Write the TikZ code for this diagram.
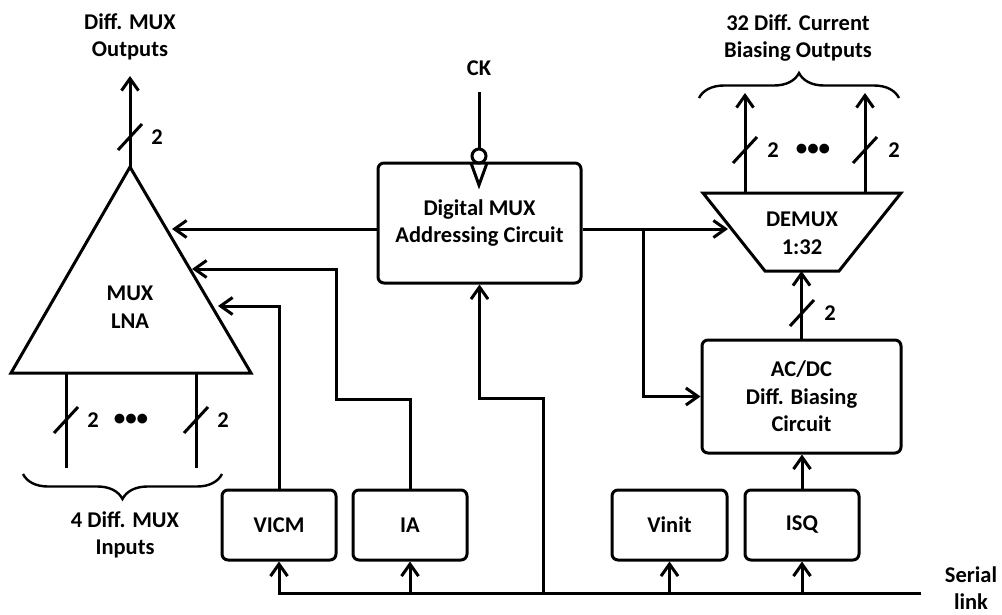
\documentclass[tikz,border=0pt]{standalone}
\usepackage{fontspec}
\setmainfont{Carlito}
\usetikzlibrary{arrows.meta,decorations.pathreplacing}
\newcommand\lblfont{\fontsize{22.5}{27.5}\selectfont\bfseries}
\newcommand\busslash[2]{\draw[wire] (#1-12,#2+13) -- (#1+12,#2-13);}
\begin{document}
\begin{tikzpicture}[x=1pt,y=-1pt,
  wire/.style={line width=3pt},
  arr/.style={wire,-{Straight Barb[length=12pt,width=17pt]}},
  box/.style={draw,wire,rounded corners=6pt,inner sep=0pt,align=center,font=\lblfont},
  lbl/.style={font=\lblfont,align=center,inner sep=0pt},
  brc/.style={decorate,decoration={brace,amplitude=25pt},line width=2.4pt}]
\useasboundingbox (0,0) rectangle (1002,614);

% MUX LNA triangle
\draw[wire] (11,373) -- (130,167) -- (251,373) -- cycle;
\node[lbl] (mux) at (130,307) {MUX\\LNA};
\coordinate (apex) at (130,167);
\coordinate (muxout) at (130,76);
\draw[arr] (apex) -- (muxout);
\busslash{130}{137}
\node[lbl] (two1) at (157,137) {2};
\node[lbl] (muxouttxt) at (130,37) {Diff. MUX\\Outputs};

% MUX inputs
\coordinate (in1t) at (66,373); \coordinate (in1b) at (66,468);
\coordinate (in2t) at (196,373); \coordinate (in2b) at (196,468);
\draw[wire] (in1t) -- (in1b);
\draw[wire] (in2t) -- (in2b);
\busslash{66}{420}
\busslash{196}{420}
\node[lbl] (two2) at (93,420) {2};
\node[lbl] (two3) at (223,420) {2};
\node[lbl,font=\fontsize{23}{26}\selectfont\bfseries] (dots1) at (131,420) {•••};
\draw[brc] (222,474) -- (23,474);
\node[lbl] (muxintxt) at (125,535) {4 Diff. MUX\\Inputs};

% Digital MUX
\node[box,minimum width=203pt,minimum height=120pt] (dig) at (479.5,223) {Digital MUX\\Addressing Circuit};
\node[lbl] (ck) at (479,68) {CK};
\coordinate (ckt) at (479,92);
\node[circle,draw,wire,minimum size=14pt,inner sep=0pt] (bub) at (479,156) {};
\draw[wire] (ckt) -- (bub.north);
\draw[wire] (471,163) -- (479,185) -- (487,163);

% DEMUX
\draw[wire] (703,193) -- (901,193) -- (839,271) -- (765,271) -- cycle;
\node[lbl] (demux) at (802,233.5) {DEMUX\\1:32};
\coordinate (o1b) at (745,193); \coordinate (o1t) at (745,93);
\coordinate (o2b) at (865,193); \coordinate (o2t) at (865,93);
\draw[arr] (o1b) -- (o1t);
\draw[arr] (o2b) -- (o2t);
\busslash{745}{150}
\busslash{865}{150}
\node[lbl] (two4) at (773,150) {2};
\node[lbl] (two5) at (894,150) {2};
\node[lbl,font=\fontsize{23}{26}\selectfont\bfseries] (dots2) at (813,150) {•••};
\draw[brc] (699,98) -- (899,98);
\node[lbl] (demuxouttxt) at (798,38) {32 Diff. Current\\Biasing Outputs};

% AC/DC
\node[box,minimum width=199pt,minimum height=113pt] (acdc) at (801.5,396.5) {AC/DC\\Diff. Biasing\\Circuit};
\coordinate (dmb) at (802,271);
\draw[arr] (acdc.north) -- (acdc.north |- dmb);
\busslash{802}{313}
\node[lbl] (two6) at (830,313) {2};

% lower boxes
\node[box,minimum width=114pt,minimum height=70pt] (vicm) at (279,525) {VICM};
\node[box,minimum width=114pt,minimum height=70pt] (ia) at (410,525) {IA};
\node[box,minimum width=115pt,minimum height=70pt] (vinit) at (669.5,525) {Vinit};
\node[box,minimum width=114pt,minimum height=70pt] (isq) at (802,525) {ISQ};

% digital MUX connections
\coordinate (t1) at (172,229);
\draw[arr] (dig.west |- t1) -- (t1);
\coordinate (dm1) at (728,229);
\draw[arr] (dig.east |- dm1) -- (dm1);
\coordinate (jn) at (643,229);
\draw[arr] (jn) |- (acdc.west);

% bias lines to MUX
\coordinate (v1) at (218,306);
\draw[arr] (vicm.north) |- (v1);
\coordinate (a1) at (336,399);
\coordinate (a2) at (192,269);
\draw[arr] (ia.north) |- (a1) |- (a2);

% serial bus
\coordinate (busR) at (921,593);
\draw[arr] (busR) -- (vicm.south |- busR) -- (vicm.south);
\draw[arr] (ia.south |- busR) -- (ia.south);
\draw[arr] (vinit.south |- busR) -- (vinit.south);
\draw[arr] (isq.south |- busR) -- (isq.south);
\draw[arr] (isq.north) -- (isq.north |- acdc.south);
\coordinate (fk) at (543,398);
\draw[arr] (fk |- busR) -- (fk) -| (dig.south);
\node[lbl] (ser) at (971,588) {Serial\\link};
\end{tikzpicture}
\end{document}
